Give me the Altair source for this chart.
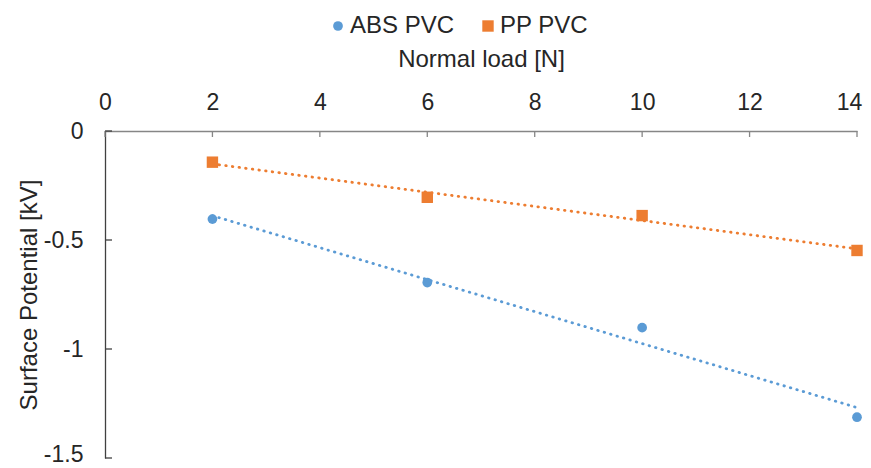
import altair as alt
import pandas as pd

# Data
loads = [2, 6, 10, 14]
abs_pvc = [-0.404, -0.695, -0.902, -1.313]
pp_pvc = [-0.143, -0.304, -0.388, -0.548]
series_names = ["ABS PVC", "PP PVC"]
series_colors = ["#5B9BD5", "#ED7D31"]
x_ticks = [0, 2, 4, 6, 8, 10, 12, 14]
y_ticks = [0, -0.5, -1, -1.5]

rows = []
for name, vals in zip(series_names, [abs_pvc, pp_pvc]):
    for l, v in zip(loads, vals):
        rows.append({"series": name, "load": l, "value": v})
df = pd.DataFrame(rows)
xt = pd.DataFrame({"t": x_ticks})
yt = pd.DataFrame({"t": y_ticks})

FONT = "Liberation Sans"
TXT = "#262626"

xscale = alt.Scale(domain=[0, 14], nice=False, zero=False)
yscale = alt.Scale(domain=[-1.5, 0], nice=False, zero=False)
cscale = alt.Scale(domain=series_names, range=series_colors)

xaxis = alt.Axis(orient="top", values=x_ticks, title="Normal load [N]",
                 ticks=False, tickSize=0, labelPadding=17, titlePadding=20,
                 domainColor="#868686", domainWidth=1.3, grid=False,
                 labelFontSize=23, titleFontSize=24, labelFont=FONT, titleFont=FONT,
                 labelColor=TXT, titleColor=TXT, titleFontWeight="normal",
                 labelOffset={"expr": "datum.value == 14 ? -8 : 0"},
                 labelFlush=False)
yaxis = alt.Axis(values=y_ticks, title="Surface Potential [kV]",
                 ticks=False, tickSize=0, labelPadding=22, titlePadding=2,
                 domainColor="#404040", domainWidth=1.3, grid=False,
                 labelFontSize=23, titleFontSize=24, labelFont=FONT, titleFont=FONT,
                 labelColor=TXT, titleColor=TXT, titleFontWeight="normal",
                 labelOffset={"expr": "datum.value == -1.5 ? -4 : 0"},
                 labelExpr="'' + datum.value", labelFlush=False)

legend = alt.Legend(title=None, orient="none", direction="horizontal",
                    legendX=221, legendY=-117,
                    labelFontSize=24, labelFont=FONT, labelColor=TXT,
                    symbolSize=80, columnPadding=21, labelOffset=0,
                    symbolStrokeWidth=0)

base = alt.Chart(df)

trend = base.transform_regression(
    "load", "value", groupby=["series"]
).mark_line(strokeWidth=2.8, strokeDash=[0.5, 6.2], strokeCap="round").encode(
    x=alt.X("load:Q", scale=xscale, axis=xaxis),
    y=alt.Y("value:Q", scale=yscale, axis=yaxis),
    color=alt.Color("series:N", scale=cscale, legend=legend),
)

points = base.mark_point(filled=True, opacity=1).encode(
    x=alt.X("load:Q", scale=xscale),
    y=alt.Y("value:Q", scale=yscale),
    color=alt.Color("series:N", scale=cscale, legend=legend),
    shape=alt.Shape("series:N", scale=alt.Scale(domain=series_names, range=["circle", "square"]),
                    legend=legend),
    size=alt.Size("series:N", scale=alt.Scale(domain=series_names, range=[95, 130]), legend=None),
)

xticks = alt.Chart(xt).mark_rule(color="#868686", strokeWidth=1.3).encode(
    x=alt.X("t:Q", scale=xscale), y=alt.value(0), y2=alt.value(6)
)
yticks = alt.Chart(yt).mark_rule(color="#404040", strokeWidth=1.3).encode(
    y=alt.Y("t:Q", scale=yscale), x=alt.value(0), x2=alt.value(7)
)

chart = alt.layer(trend, points, xticks, yticks).properties(
    width=752, height=327,
    autosize=alt.AutoSizeParams(type="none"),
    padding={"left": 97, "top": 123, "right": 6, "bottom": 10},
).configure_view(stroke=None)

chart.save("out.html", embed_options={"renderer": "svg", "actions": False})
